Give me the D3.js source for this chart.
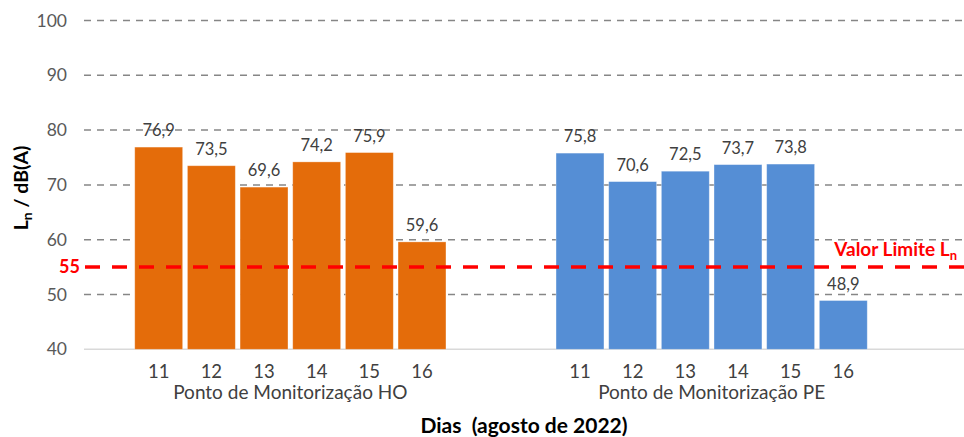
<!DOCTYPE html>
<html><head><meta charset="utf-8">
<script src="https://cdn.jsdelivr.net/npm/d3@7"></script>
<style>body{margin:0;background:#fff}svg{display:block;font-family:Lato,"Open Sans",sans-serif}</style>
</head><body><svg id="c" width="964" height="437"></svg>
<script>
const days = ["11","12","13","14","15","16"];
const groups = ["Ponto de Monitorização HO","Ponto de Monitorização PE"];
const valuesHO = [76.9,73.5,69.6,74.2,75.9,59.6];
const valuesPE = [75.8,70.6,72.5,73.7,73.8,48.9];
const yTicks = [40,50,60,70,80,90,100];
const limitValue = 55;
const colors = ["#E46C0A","#558ED5"];

const svg = d3.select("#c");
const y = d3.scaleLinear().domain([40,100]).range([349.3,20.5]);
const keys = [...days.map(d=>"HO"+d),"g1","g2",...days.map(d=>"PE"+d)];
const x = d3.scaleBand().domain(keys).range([130,872]).padding(0.09);
const data = [
  ...days.map((d,i)=>({key:"HO"+d,day:d,v:valuesHO[i],g:0})),
  ...days.map((d,i)=>({key:"PE"+d,day:d,v:valuesPE[i],g:1}))
];
const left = 84, right = 964;

svg.append("g").selectAll("line").data(yTicks.filter(t=>t>40)).join("line")
  .attr("x1",left).attr("x2",right).attr("y1",d=>y(d)).attr("y2",d=>y(d))
  .attr("stroke","#868686").attr("stroke-width",1.5).attr("stroke-dasharray","7,6");
svg.append("line").attr("x1",left).attr("x2",right).attr("y1",y(40)).attr("y2",y(40))
  .attr("stroke","#d9d9d9").attr("stroke-width",1.5);
svg.append("g").selectAll("text").data(yTicks).join("text")
  .attr("x",67).attr("y",d=>y(d)).attr("dy","0.35em").attr("text-anchor","end")
  .attr("font-size",17.5).attr("fill","#595959").text(d=>d);

svg.append("g").selectAll("rect").data(data).join("rect")
  .attr("x",d=>x(d.key)).attr("width",x.bandwidth())
  .attr("y",d=>y(d.v)).attr("height",d=>y(40)-y(d.v))
  .attr("fill",d=>colors[d.g]).attr("stroke","#fff").attr("stroke-opacity",0.4).attr("stroke-width",0.8);
svg.append("g").selectAll("text").data(data).join("text")
  .attr("x",d=>x(d.key)+x.bandwidth()/2).attr("y",d=>y(d.v)-11)
  .attr("text-anchor","middle").attr("font-size",16.5).attr("fill","#404040")
  .text(d=>d3.format(".1f")(d.v).replace(".",","));
svg.append("g").selectAll("text").data(data).join("text")
  .attr("x",d=>x(d.key)+x.bandwidth()/2).attr("y",378)
  .attr("text-anchor","middle").attr("font-size",18.5).attr("fill","#404040").text(d=>d.day);
svg.append("g").selectAll("text").data(groups).join("text")
  .attr("x",(d,i)=>{const a=x((i?"PE":"HO")+days[0]), b=x((i?"PE":"HO")+days[5])+x.bandwidth(); return (a+b)/2;})
  .attr("y",399).attr("text-anchor","middle").attr("font-size",19).attr("fill","#404040").text(d=>d);

svg.append("line").attr("x1",85).attr("x2",right).attr("y1",y(limitValue)).attr("y2",y(limitValue))
  .attr("stroke","#FF0000").attr("stroke-width",3.5).attr("stroke-dasharray","15,12");
svg.append("text").attr("x",80).attr("y",y(limitValue)).attr("dy","0.35em").attr("text-anchor","end")
  .attr("font-size",18).attr("font-weight","bold").attr("fill","#FF0000").text(limitValue);
const vl = svg.append("text").attr("x",957).attr("y",256).attr("text-anchor","end")
  .attr("font-size",19).attr("font-weight","bold").attr("fill","#FF0000");
vl.append("tspan").text("Valor Limite L");
vl.append("tspan").attr("font-size",13).attr("dy",4).text("n");

svg.append("text").attr("x",524).attr("y",433).attr("text-anchor","middle")
  .attr("font-size",21).attr("font-weight","bold").attr("fill","#000").attr("xml:space","preserve").text("Dias  (agosto de 2022)");
const yt = svg.append("text").attr("transform","translate(28,188) rotate(-90)").attr("text-anchor","middle")
  .attr("font-size",19.5).attr("font-weight","bold").attr("fill","#000");
yt.append("tspan").text("L");
yt.append("tspan").attr("font-size",14).attr("dy",4).text("n");
yt.append("tspan").attr("dy",-4).text(" / dB(A)");
</script></body></html>
